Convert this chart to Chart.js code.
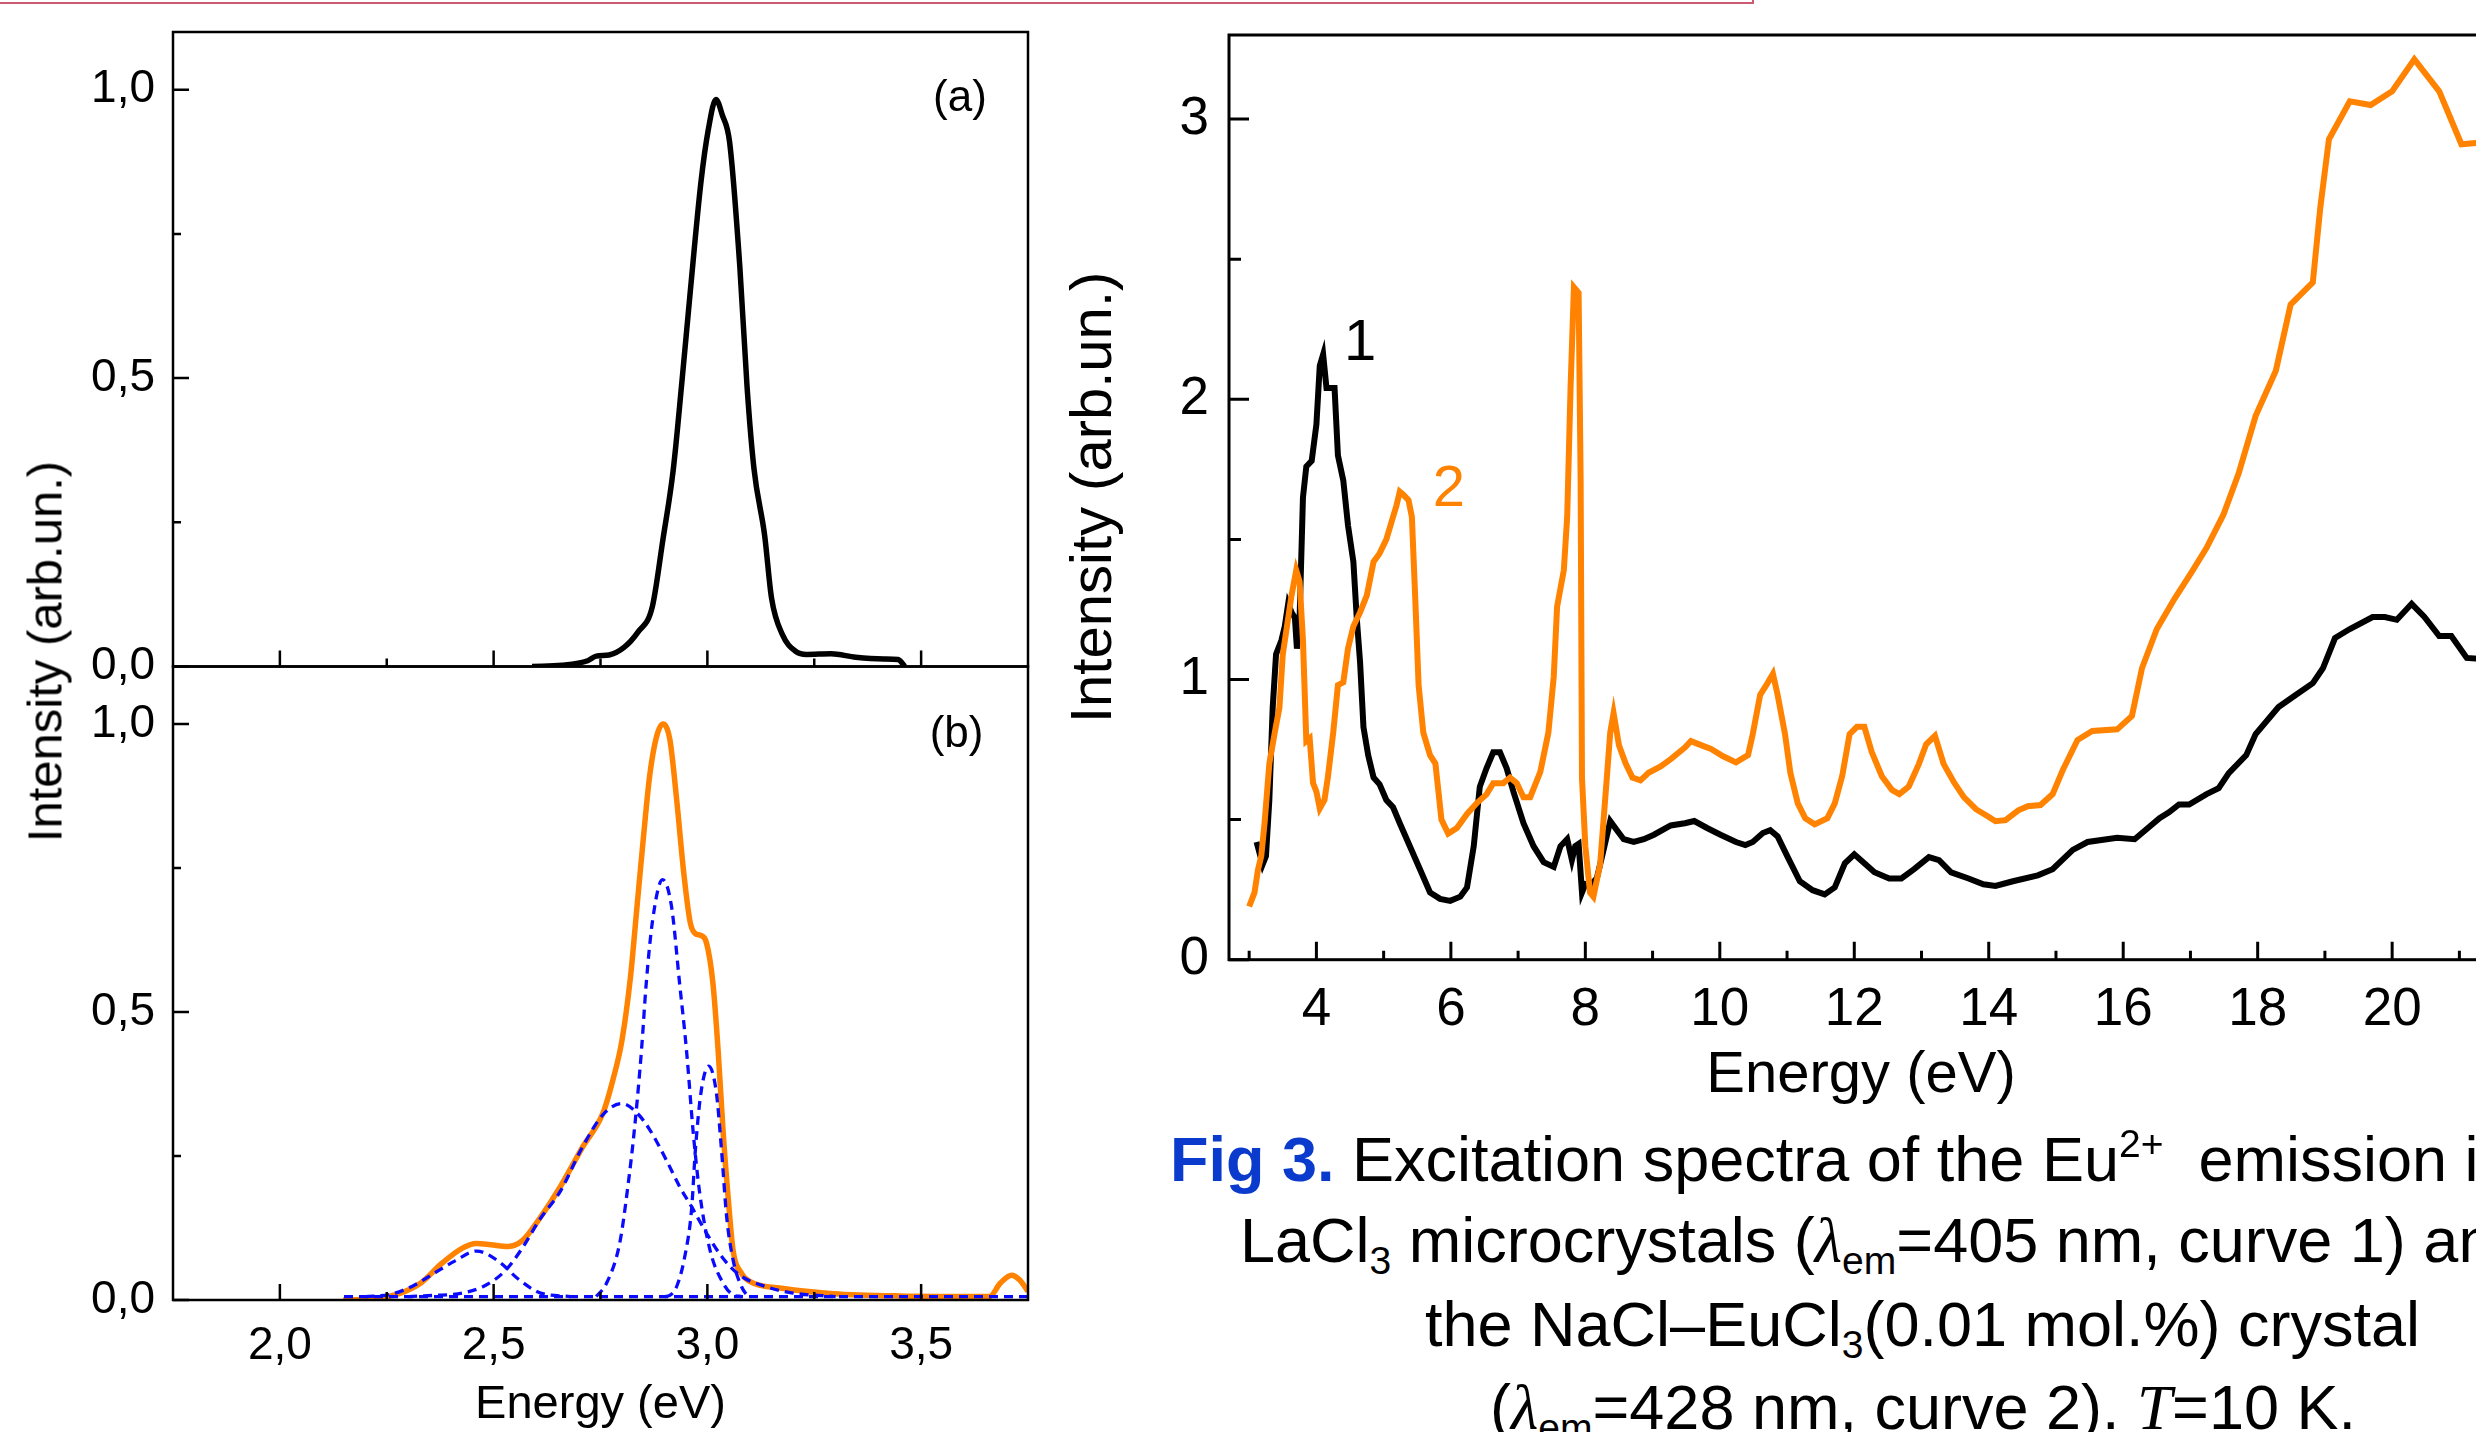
<!DOCTYPE html>
<html>
<head>
<meta charset="utf-8">
<script src="https://cdn.jsdelivr.net/npm/chart.js@4.4.1/dist/chart.umd.min.js"></script>
<style>
  html, body { margin: 0; padding: 0; background: #fff; overflow: hidden; }
  #page { position: relative; width: 2476px; height: 1432px; overflow: hidden; background: #fff;
          font-family: 'Liberation Sans', Arial, sans-serif; color: #000; }
  canvas { position: absolute; }
  #chartA { left: 0; top: 0; }
  #chartB { left: 0; top: 640px; }
  #chartR { left: 1000px; top: 0; }
  #boxEdge { position: absolute; left: -5px; top: -30px; width: 1759px; height: 34px; box-sizing: border-box;
             border: 2px solid rgb(205, 90, 115); }
  #yTitleLeft { position: absolute; left: -205px; top: 627px; width: 500px; text-align: center;
                font-size: 49px; line-height: 49px; transform: rotate(-90deg); white-space: nowrap; }
  .cap { position: absolute; white-space: nowrap; font-size: 63px; line-height: 63px; }
  .sub { position: relative; font-size: 0.62em; top: 0.3em; line-height: 0; }
  .sup { position: relative; font-size: 0.62em; top: -0.62em; line-height: 0; }
  .it { font-family: 'Liberation Serif', serif; font-style: italic; }
</style>
</head>
<body>
<div id="page">
  <div id="boxEdge"></div>
  <canvas id="chartA" width="1100" height="700"></canvas>
  <canvas id="chartB" width="1100" height="800"></canvas>
  <canvas id="chartR" width="1530" height="1130"></canvas>
  <div id="yTitleLeft">Intensity (arb.un.)</div>

  <div class="cap" style="left:1170px; top:1128px;"><b style="color:#0b3bcc">Fig 3.</b> Excitation spectra of the Eu<span class="sup">2+</span>&nbsp; emission in</div>
  <div class="cap" style="left:1240px; top:1209px;">LaCl<span class="sub">3</span> microcrystals (<span class="it">λ</span><span class="sub">em</span>=405 nm, curve 1) and</div>
  <div class="cap" style="left:1425px; top:1293px;">the NaCl–EuCl<span class="sub">3</span>(0.01 mol.%) crystal</div>
  <div class="cap" style="left:1490px; top:1376px;">(<span class="it">λ</span><span class="sub">em</span>=428 nm, curve 2). <span class="it">T</span>=10 K.</div>
</div>

<script>
// ---- panel (a): emission spectrum, [energy eV, intensity] ----
const emissionA = [[2.59,0],[2.66,0.002],[2.72,0.01],[2.74,0.018],[2.77,0.02],[2.805,0.033],[2.838,0.06],
  [2.871,0.103],[2.896,0.22],[2.92,0.34],[2.94,0.49],[2.96,0.65],[2.985,0.84],[3.002,0.93],[3.02,0.983],
  [3.035,0.956],[3.052,0.909],[3.076,0.692],[3.093,0.483],[3.109,0.343],[3.134,0.227],[3.15,0.119],
  [3.175,0.056],[3.207,0.026],[3.232,0.021],[3.289,0.022],[3.347,0.016],[3.413,0.013],[3.446,0.012],[3.462,0]];

// ---- panel (b): measured band (orange) and fitted components (blue dashed) ----
const emissionB = [[2.148,0],[2.23,0.003],[2.279,0.011],[2.329,0.029],[2.378,0.063],[2.427,0.09],[2.46,0.098],
  [2.493,0.096],[2.534,0.093],[2.567,0.103],[2.608,0.142],[2.657,0.198],[2.706,0.263],[2.756,0.325],[2.78,0.385],
  [2.80,0.45],[2.82,0.56],[2.835,0.68],[2.85,0.80],[2.865,0.91],[2.88,0.975],[2.896,1.0],[2.912,0.974],
  [2.928,0.87],[2.945,0.74],[2.96,0.655],[2.972,0.636],[2.985,0.633],[2.998,0.62],[3.013,0.55],[3.025,0.435],
  [3.037,0.29],[3.049,0.174],[3.06,0.087],[3.08,0.046],[3.10,0.032],[3.178,0.02],[3.294,0.011],[3.45,0.007],
  [3.66,0.006],[3.685,0.029],[3.712,0.043],[3.73,0.035],[3.75,0.015]];
const bandBase = [[2.15,0.006],[3.75,0.006]];
const band1 = [[2.20,0.006],[2.26,0.01],[2.31,0.024],[2.36,0.046],[2.41,0.068],[2.46,0.085],[2.51,0.068],
  [2.56,0.035],[2.61,0.012],[2.68,0.006]];
const band2 = [[2.30,0.006],[2.36,0.008],[2.427,0.012],[2.477,0.024],[2.526,0.05],[2.567,0.09],[2.608,0.14],
  [2.657,0.19],[2.706,0.263],[2.756,0.322],[2.80,0.341],[2.835,0.325],[2.865,0.296],[2.904,0.243],[2.935,0.197],
  [2.963,0.162],[2.998,0.116],[3.037,0.072],[3.076,0.043],[3.138,0.023],[3.2,0.012],[3.3,0.006]];
const band3 = [[2.74,0.006],[2.764,0.029],[2.795,0.099],[2.814,0.197],[2.83,0.301],[2.846,0.435],[2.857,0.55],
  [2.872,0.66],[2.895,0.73],[2.916,0.684],[2.935,0.55],[2.951,0.435],[2.967,0.29],[2.982,0.186],[3.006,0.087],
  [3.037,0.029],[3.06,0.009],[3.08,0.006]];
const band4 = [[2.90,0.006],[2.912,0.008],[2.928,0.023],[2.947,0.075],[2.963,0.157],[2.972,0.261],[2.985,0.36],
  [3.003,0.406],[3.021,0.36],[3.033,0.261],[3.045,0.145],[3.06,0.07],[3.08,0.023],[3.095,0.006]];

// ---- right: excitation spectra, curve 1 (black) and curve 2 (orange) ----
const curve1 = [[3.11,0.42],[3.2,0.34],[3.25,0.37],[3.30,0.57],[3.35,0.90],[3.40,1.09],[3.48,1.14],[3.53,1.19],
  [3.58,1.27],[3.63,1.24],[3.68,1.22],[3.71,1.11],[3.75,1.22],[3.80,1.65],[3.85,1.76],[3.93,1.78],[4.0,1.91],
  [4.05,2.12],[4.10,2.16],[4.15,2.04],[4.22,2.04],[4.27,2.04],[4.32,1.80],[4.40,1.71],[4.47,1.55],[4.55,1.42],
  [4.60,1.22],[4.65,1.06],[4.70,0.83],[4.77,0.73],[4.85,0.65],[4.94,0.626],[5.04,0.57],[5.14,0.544],[5.24,0.487],
  [5.39,0.405],[5.54,0.323],[5.69,0.24],[5.84,0.217],[5.99,0.21],[6.14,0.225],[6.24,0.258],[6.34,0.405],
  [6.43,0.617],[6.53,0.683],[6.63,0.74],[6.73,0.74],[6.83,0.683],[6.93,0.60],[7.08,0.487],[7.23,0.405],
  [7.38,0.348],[7.53,0.331],[7.63,0.405],[7.73,0.43],[7.80,0.356],[7.85,0.405],[7.90,0.413],[7.95,0.24],
  [8.0,0.27],[8.07,0.265],[8.17,0.29],[8.27,0.39],[8.37,0.495],[8.47,0.462],[8.57,0.43],[8.72,0.42],[8.87,0.43],
  [9.02,0.446],[9.27,0.479],[9.48,0.487],[9.62,0.495],[9.81,0.47],[10.01,0.446],[10.24,0.42],[10.38,0.409],
  [10.49,0.42],[10.64,0.452],[10.75,0.462],[10.86,0.44],[11.01,0.366],[11.19,0.28],[11.38,0.248],[11.56,0.233],
  [11.71,0.258],[11.86,0.344],[12.0,0.376],[12.15,0.344],[12.30,0.312],[12.52,0.29],[12.70,0.29],[12.89,0.323],
  [13.11,0.366],[13.26,0.355],[13.44,0.312],[13.70,0.29],[13.92,0.269],[14.10,0.263],[14.36,0.28],[14.73,0.301],
  [14.95,0.323],[15.25,0.392],[15.47,0.42],[15.91,0.435],[16.17,0.43],[16.54,0.505],[16.68,0.526],[16.83,0.554],
  [16.98,0.554],[17.24,0.591],[17.42,0.612],[17.57,0.666],[17.83,0.73],[17.97,0.805],[18.31,0.902],[18.56,0.944],
  [18.82,0.987],[18.97,1.04],[19.15,1.148],[19.37,1.18],[19.71,1.223],[19.89,1.223],[20.07,1.213],[20.29,1.27],
  [20.48,1.223],[20.70,1.155],[20.88,1.155],[21.11,1.077],[21.5,1.07]];
const curve2 = [[3.0,0.19],[3.08,0.24],[3.13,0.32],[3.18,0.37],[3.23,0.49],[3.30,0.70],[3.38,0.81],[3.45,0.90],
  [3.50,1.09],[3.55,1.17],[3.63,1.30],[3.70,1.39],[3.75,1.35],[3.80,1.14],[3.85,0.78],[3.90,0.79],[3.95,0.63],
  [4.0,0.60],[4.05,0.54],[4.12,0.57],[4.17,0.65],[4.25,0.81],[4.32,0.98],[4.40,0.99],[4.47,1.11],[4.55,1.19],
  [4.65,1.24],[4.75,1.30],[4.85,1.42],[4.94,1.45],[5.04,1.50],[5.14,1.58],[5.19,1.62],[5.24,1.67],[5.29,1.66],
  [5.37,1.64],[5.42,1.58],[5.47,1.29],[5.52,0.98],[5.59,0.81],[5.69,0.73],[5.77,0.70],[5.86,0.50],[5.96,0.45],
  [6.09,0.47],[6.24,0.52],[6.39,0.56],[6.53,0.59],[6.63,0.63],[6.78,0.63],[6.88,0.65],[6.98,0.63],[7.08,0.58],
  [7.18,0.58],[7.33,0.67],[7.45,0.81],[7.53,1.01],[7.58,1.26],[7.68,1.39],[7.73,1.58],[7.78,2.04],[7.83,2.40],
  [7.90,2.38],[7.93,1.71],[7.95,0.65],[8.0,0.405],[8.07,0.24],[8.12,0.225],[8.22,0.34],[8.32,0.65],[8.37,0.81],
  [8.42,0.88],[8.50,0.765],[8.60,0.70],[8.70,0.65],[8.82,0.64],[8.94,0.667],[9.12,0.69],[9.27,0.716],[9.48,0.757],
  [9.57,0.78],[9.73,0.765],[9.87,0.752],[10.05,0.726],[10.24,0.704],[10.42,0.73],[10.49,0.805],[10.60,0.945],
  [10.71,0.987],[10.79,1.02],[10.86,0.945],[10.97,0.805],[11.05,0.666],[11.16,0.558],[11.27,0.505],[11.41,0.483],
  [11.60,0.505],[11.71,0.558],[11.82,0.655],[11.93,0.805],[12.04,0.831],[12.15,0.831],[12.26,0.741],[12.41,0.655],
  [12.56,0.606],[12.67,0.591],[12.81,0.618],[12.96,0.698],[13.07,0.769],[13.20,0.799],[13.33,0.698],[13.48,0.634],
  [13.63,0.58],[13.81,0.537],[13.99,0.511],[14.10,0.494],[14.25,0.498],[14.44,0.533],[14.58,0.548],[14.77,0.552],
  [14.95,0.591],[15.10,0.676],[15.32,0.784],[15.54,0.816],[15.91,0.822],[16.13,0.87],[16.28,1.041],[16.50,1.18],
  [16.76,1.287],[17.02,1.384],[17.24,1.47],[17.49,1.588],[17.72,1.738],[17.97,1.941],[18.27,2.102],[18.49,2.338],
  [18.82,2.417],[18.93,2.681],[19.06,2.928],[19.37,3.063],[19.68,3.05],[20.0,3.099],[20.33,3.213],[20.70,3.099],
  [21.03,2.91],[21.5,2.92]];

// ---- tick values ----
const leftXMajor = [2.0, 2.5, 3.0, 3.5];
const leftXMinor = [2.25, 2.75, 3.25];
const leftYMajor = [0, 0.5, 1.0];
const leftYMinor = [0.25, 0.75];
const rightXMajor = [4, 6, 8, 10, 12, 14, 16, 18, 20];
const rightXMinor = [3, 5, 7, 9, 11, 13, 15, 17, 19, 21];
const rightYMajor = [0, 1, 2, 3];
const rightYMinor = [0.5, 1.5, 2.5];

const FONT = "'Liberation Sans', Arial, sans-serif";
const ORANGE = '#ff8200';
const BLUE = '#0a0aff';

const comma = v => v.toFixed(1).replace('.', ',');
const pts = arr => arr.map(p => ({ x: p[0], y: p[1] }));

function line(arr, color, width, extra) {
  return Object.assign({
    data: pts(arr), borderColor: color, borderWidth: width, pointRadius: 0, fill: false, tension: 0
  }, extra || {});
}

// no automatic label padding: the plot area is set by layout padding only
function noPad(s) {
  s.paddingTop = 0; s.paddingBottom = 0; s.paddingLeft = 0; s.paddingRight = 0;
}

// frame box, inward ticks and text notes, placed through the chart's scales
const frameTicks = {
  id: 'frameTicks',
  afterDatasetsDraw(chart, args, o) {
    const { ctx, chartArea: a, scales: { x, y } } = chart;
    ctx.save();
    ctx.strokeStyle = '#000';
    ctx.lineWidth = o.width;
    ctx.strokeRect(a.left, a.top, a.right - a.left, a.bottom - a.top);
    ctx.beginPath();
    o.xTicks.forEach(([vals, len]) => vals.forEach(v => {
      const px = x.getPixelForValue(v);
      ctx.moveTo(px, a.bottom); ctx.lineTo(px, a.bottom - len);
    }));
    o.yTicks.forEach(([vals, len]) => vals.forEach(v => {
      const py = y.getPixelForValue(v);
      ctx.moveTo(a.left, py); ctx.lineTo(a.left + len, py);
    }));
    ctx.stroke();
    (o.notes || []).forEach(n => {
      ctx.font = n.font;
      ctx.fillStyle = n.color;
      ctx.textAlign = 'left';
      ctx.textBaseline = 'alphabetic';
      ctx.fillText(n.text, x.getPixelForValue(n.x), y.getPixelForValue(n.y));
    });
    ctx.restore();
  }
};

function yScale(min, max, majors, fmt, size, pad, width, title) {
  return {
    type: 'linear', min, max,
    afterFit: s => { s.width = width; noPad(s); },
    afterBuildTicks: s => { s.ticks = majors.map(v => ({ value: v })); },
    ticks: { font: { family: FONT, size }, color: '#000', padding: pad, callback: fmt },
    grid: { display: false, drawTicks: false },
    border: { display: false },
    title: title || { display: false }
  };
}

const baseOpts = {
  responsive: false, animation: false, devicePixelRatio: 1
};

// panel (a)
new Chart(document.getElementById('chartA'), {
  type: 'line',
  data: { datasets: [line(emissionA, '#000', 5.5, { cubicInterpolationMode: 'monotone' })] },
  options: Object.assign({}, baseOpts, {
    layout: { autoPadding: false, padding: { left: 0, top: 32, right: 72, bottom: 33.5 } },
    plugins: {
      legend: { display: false }, tooltip: { enabled: false },
      frameTicks: {
        width: 2.5,
        xTicks: [[leftXMajor, 16], [leftXMinor, 8]],
        yTicks: [[leftYMajor, 16], [leftYMinor, 8]],
        notes: [{ text: '(a)', x: 3.528, y: 0.963, color: '#000', font: `44px ${FONT}` }]
      }
    },
    scales: {
      x: { type: 'linear', min: 1.75, max: 3.75, display: false },
      y: yScale(0, 1.1, leftYMajor, v => comma(v), 46, 18, 173)
    }
  }),
  plugins: [frameTicks]
});

// panel (b)
new Chart(document.getElementById('chartB'), {
  type: 'line',
  data: {
    datasets: [
      line(emissionB, ORANGE, 5.5, { cubicInterpolationMode: 'monotone', order: 2 }),
      line(bandBase, BLUE, 3.3, { borderDash: [9, 6], order: 1 }),
      line(band1, BLUE, 3.3, { borderDash: [9, 6], cubicInterpolationMode: 'monotone', order: 1 }),
      line(band2, BLUE, 3.3, { borderDash: [9, 6], cubicInterpolationMode: 'monotone', order: 1 }),
      line(band3, BLUE, 3.3, { borderDash: [9, 6], cubicInterpolationMode: 'monotone', order: 1 }),
      line(band4, BLUE, 3.3, { borderDash: [9, 6], cubicInterpolationMode: 'monotone', order: 1 })
    ]
  },
  options: Object.assign({}, baseOpts, {
    layout: { autoPadding: false, padding: { left: 0, top: 26.5, right: 72, bottom: 0 } },
    plugins: {
      legend: { display: false }, tooltip: { enabled: false },
      frameTicks: {
        width: 2.5,
        xTicks: [[leftXMajor, 16], [leftXMinor, 8]],
        yTicks: [[leftYMajor, 16], [leftYMinor, 8]],
        notes: [{ text: '(b)', x: 3.52, y: 0.96, color: '#000', font: `44px ${FONT}` }]
      }
    },
    scales: {
      x: {
        type: 'linear', min: 1.75, max: 3.75,
        afterFit: s => { s.height = 140; noPad(s); },
        afterBuildTicks: s => { s.ticks = leftXMajor.map(v => ({ value: v })); },
        ticks: { font: { family: FONT, size: 46 }, color: '#000', padding: 19, maxRotation: 0, callback: v => comma(v) },
        grid: { display: false, drawTicks: false },
        border: { display: false },
        title: { display: true, text: 'Energy (eV)', color: '#000', font: { family: FONT, size: 47 }, padding: { top: 0, bottom: 7 } }
      },
      y: yScale(0, 1.1, leftYMajor, v => comma(v), 46, 18, 173)
    }
  }),
  plugins: [frameTicks]
});

// right: excitation spectra
new Chart(document.getElementById('chartR'), {
  type: 'line',
  data: {
    datasets: [
      line(curve2, ORANGE, 6, { order: 1 }),
      line(curve1, '#000', 6, { order: 2 })
    ]
  },
  options: Object.assign({}, baseOpts, {
    layout: { autoPadding: false, padding: { left: 0, top: 35, right: 37, bottom: 0 } },
    plugins: {
      legend: { display: false }, tooltip: { enabled: false },
      frameTicks: {
        width: 3,
        xTicks: [[rightXMajor, 18], [rightXMinor, 9]],
        yTicks: [[rightYMajor, 20], [rightYMinor, 12]],
        notes: [
          { text: '1', x: 4.41, y: 2.14, color: '#000', font: `58px ${FONT}` },
          { text: '2', x: 5.73, y: 1.62, color: ORANGE, font: `58px ${FONT}` }
        ]
      }
    },
    scales: {
      x: {
        type: 'linear', min: 2.7, max: 21.5,
        afterFit: s => { s.height = 170.3; noPad(s); },
        afterBuildTicks: s => { s.ticks = rightXMajor.map(v => ({ value: v })); },
        ticks: { font: { family: FONT, size: 53 }, color: '#000', padding: 19, maxRotation: 0, autoSkip: false },
        grid: { display: false, drawTicks: false },
        border: { display: false },
        title: { display: true, text: 'Energy (eV)', color: '#000', font: { family: FONT, size: 58 }, padding: { top: 0, bottom: 19 } }
      },
      y: yScale(0, 3.3, rightYMajor, v => String(v), 53, 20, 229,
        { display: true, text: 'Intensity (arb.un.)', color: '#000', font: { family: FONT, size: 58 }, padding: { top: 60, bottom: 0 } })
    }
  }),
  plugins: [frameTicks]
});
</script>
</body>
</html>
